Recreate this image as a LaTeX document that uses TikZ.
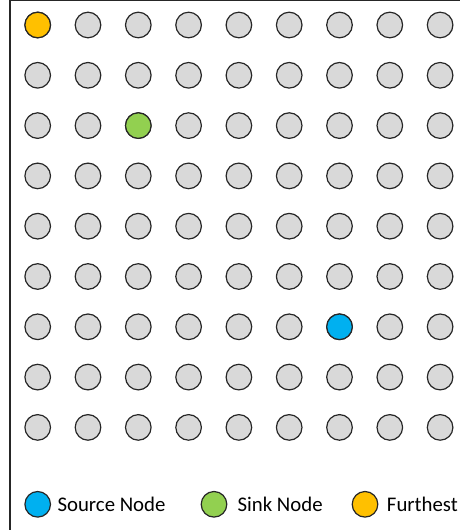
\documentclass[tikz,border=0pt]{standalone}
\usepackage{fontspec}
\setmainfont{Carlito}
\definecolor{nodegray}{HTML}{D9D9D9}
\definecolor{srcblue}{HTML}{00B0F0}
\definecolor{sinkgreen}{HTML}{92D050}
\definecolor{farorange}{HTML}{FFC000}
\definecolor{edge}{HTML}{262626}
\tikzset{
  dot/.style={circle, draw=edge, line width=0.9pt, minimum size=19.2pt, inner sep=0pt, fill=nodegray},
  legtext/.style={anchor=west, inner sep=0pt, font=\fontsize{15.6pt}{18pt}\selectfont, text=black},
}
\begin{document}
\begin{tikzpicture}[x=0.75pt,y=-0.75pt]
\useasboundingbox (0,0) rectangle (460,530);
\draw[edge, line width=1.1pt] (10,530) -- (10,0.6) -- (460,0.6);
\foreach \i in {0,...,8}{
  \foreach \j in {0,...,8}{
    \node[dot] (n-\i-\j) at ({37.7+50.3*\i},{25+50.3*\j}) {};
  }
}
\node[dot, fill=farorange] at (n-0-0) {};
\node[dot, fill=sinkgreen] at (n-2-2) {};
\node[dot, fill=srcblue] at (n-6-6) {};
% legend
\node[dot, fill=srcblue] (lsrc) at (37.7,504.3) {};
\node[legtext] (tsrc) at (57.3,504.3) {Source Node};
\node[dot, fill=sinkgreen] (lsink) at (214,504.3) {};
\node[legtext] (tsink) at (237.3,504.3) {Sink Node};
\node[dot, fill=farorange] (lfar) at (365,504.3) {};
\node[legtext] (tfar) at (386.7,504.3) {Furthest};
\end{tikzpicture}
\end{document}
